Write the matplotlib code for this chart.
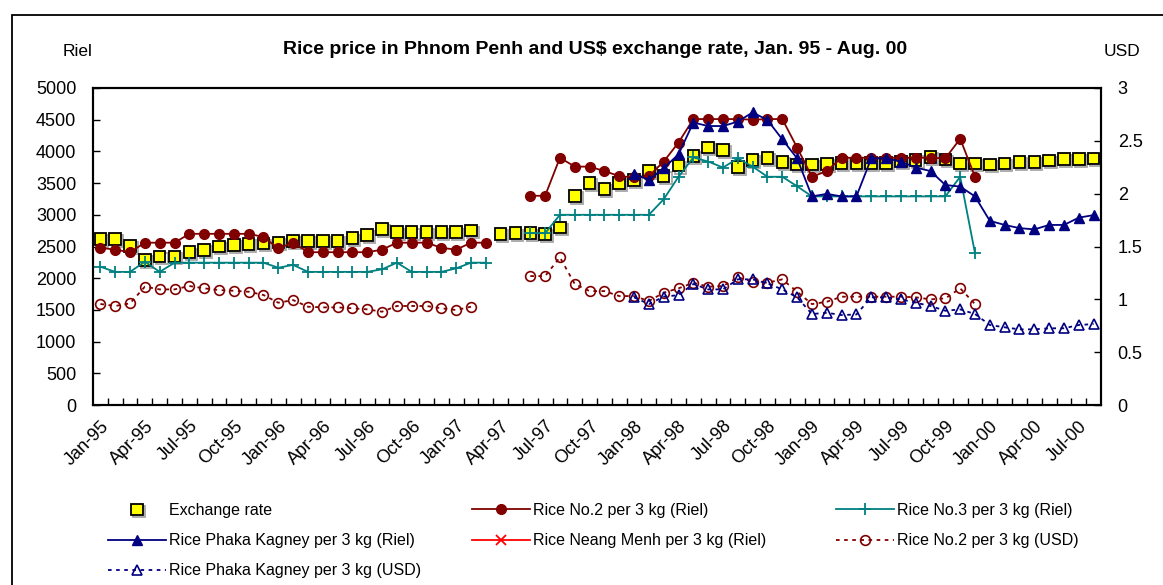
import numpy as np
import matplotlib
matplotlib.use("Agg")
import matplotlib.pyplot as plt
import matplotlib.patheffects as pe
from matplotlib.patches import Rectangle

plt.rcParams["font.family"] = ["Liberation Sans", "DejaVu Sans"]

nan = np.nan

# monthly categories Jan-95 .. Aug-00
mon = ["Jan", "Feb", "Mar", "Apr", "May", "Jun", "Jul", "Aug", "Sep", "Oct", "Nov", "Dec"]
months = [f"{m}-{y:02d}" for y in [95, 96, 97, 98, 99, 0] for m in mon][:68]

exchange_rate = [2620, 2620, 2510, 2290, 2340, 2340, 2410, 2445, 2500, 2525, 2540, 2550,
                 2565, 2590, 2590, 2590, 2590, 2630, 2680, 2775, 2725, 2725, 2725, 2725,
                 2725, 2750, nan, 2700, 2710, 2710, 2700, 2800, 3300, 3500, 3410, 3500,
                 3550, 3695, 3610, 3775, 3925, 4060, 4020, 3750, 3865, 3895, 3835, 3795,
                 3795, 3800, 3820, 3810, 3820, 3820, 3840, 3865, 3915, 3875, 3810, 3810,
                 3795, 3810, 3835, 3835, 3855, 3880, 3880, 3890]

rice2_riel = [2480, 2450, 2410, 2560, 2560, 2560, 2700, 2700, 2700, 2700, 2700, 2650,
              2470, 2560, 2410, 2410, 2410, 2410, 2410, 2450, 2560, 2560, 2560, 2480,
              2450, 2560, 2560, nan, nan, 3300, 3300, 3900, 3760, 3760, 3690, 3610,
              3590, 3610, 3840, 4140, 4510, 4510, 4510, 4510, 4500, 4510, 4510, 4060,
              3600, 3690, 3900, 3900, 3900, 3900, 3900, 3900, 3900, 3890, 4200, 3600,
              nan, nan, nan, nan, nan, nan, nan, nan]

rice3_riel = [2180, 2100, 2100, 2260, 2100, 2245, 2245, 2245, 2245, 2245, 2245, 2245,
              2165, 2210, 2100, 2100, 2100, 2100, 2100, 2140, 2245, 2100, 2100, 2100,
              2155, 2245, 2245, nan, nan, 2710, 2710, 3000, 3000, 3000, 3000, 3000,
              3000, 3000, 3245, 3600, 3905, 3840, 3745, 3890, 3760, 3600, 3600, 3450,
              3290, 3290, 3290, 3290, 3290, 3290, 3290, 3290, 3290, 3290, 3600, 2395,
              nan, nan, nan, nan, nan, nan, nan, nan]

phaka_riel = [nan] * 36 + [3645, 3550, 3735, 3955, 4455, 4400, 4400, 4470, 4615, 4495,
                           4190, 3890, 3290, 3330, 3290, 3290, 3890, 3890, 3840, 3745,
                           3690, 3470, 3445, 3290, 2905, 2840, 2790, 2770, 2840, 2840,
                           2955, 2995]

neang_menh_riel = [nan] * 68

rice2_usd = [0.956, 0.937, 0.962, 1.12, 1.094, 1.094, 1.126, 1.104, 1.088, 1.081, 1.072, 1.041,
             0.968, 0.993, 0.930, 0.924, 0.924, 0.915, 0.905, 0.883, 0.937, 0.937, 0.937, 0.915,
             0.899, 0.93, nan, nan, nan, 1.22, 1.22, 1.397, 1.145, 1.078, 1.078, 1.031,
             1.031, 0.984, 1.063, 1.104, 1.157, 1.12, 1.126, 1.208, 1.167, 1.157, 1.189, 1.072,
             0.955, 0.977, 1.025, 1.025, 1.025, 1.025, 1.025, 1.019, 1.0, 1.009, 1.104, 0.955,
             nan, nan, nan, nan, nan, nan, nan, nan]

phaka_usd = [nan] * 36 + [1.019, 0.955, 1.025, 1.04, 1.145, 1.094, 1.094, 1.189, 1.189, 1.151,
                          1.094, 1.019, 0.861, 0.873, 0.851, 0.857, 1.019, 1.019, 1.0, 0.968,
                          0.937, 0.892, 0.905, 0.861, 0.757, 0.735, 0.716, 0.716, 0.726, 0.726,
                          0.757, 0.766]

x = np.arange(len(months))

fig = plt.figure(figsize=(11.63, 5.85), dpi=100)
ax = fig.add_axes([93 / 1163, 1 - 405 / 585, (1101 - 93) / 1163, (405 - 88) / 585])
ax2 = ax.twinx()

maroon = "#800000"
teal = "#008080"
navy = "#000080"

h_ex, = ax.plot(x, exchange_rate, ls="none", marker="s", ms=8.3, mfc="#ffff00", mec="black",
                mew=1.3, label="Exchange rate",
                path_effects=[pe.SimpleLineShadow(offset=(1.5, -1.5), shadow_color="gray", alpha=0.7),
                              pe.Normal()])
h_r2, = ax.plot(x, rice2_riel, color=maroon, lw=1.3, marker="o", ms=7, mfc=maroon, mec=maroon,
                label="Rice No.2 per 3 kg (Riel)")
h_r3, = ax.plot(x, rice3_riel, color=teal, lw=1.3, marker="+", ms=9, mew=1.3,
                label="Rice No.3 per 3 kg (Riel)")
h_pk, = ax.plot(x, phaka_riel, color=navy, lw=1.3, marker="^", ms=7.5, mfc=navy, mec=navy,
                label="Rice Phaka Kagney per 3 kg (Riel)")
h_nm, = ax.plot(x, neang_menh_riel, color="#ff0000", lw=1.3, marker="x", ms=7, mew=1.3,
                label="Rice Neang Menh per 3 kg (Riel)")
h_r2u, = ax2.plot(x, rice2_usd, color=maroon, lw=1.3, ls=(0, (2, 2.5)), marker="o", ms=7,
                  mfc="none", mec=maroon, mew=1.2, label="Rice No.2 per 3 kg (USD)")
h_pku, = ax2.plot(x, phaka_usd, color=navy, lw=1.3, ls=(0, (2, 2.5)), marker="^", ms=7.5,
                  mfc="none", mec=navy, mew=1.2, label="Rice Phaka Kagney per 3 kg (USD)")

ax.set_xlim(-0.5, len(months) - 0.5)
ax.set_ylim(0, 5000)
ax2.set_ylim(0, 3)
ax.set_yticks(np.arange(0, 5001, 500))
ax2.set_yticks([0, 0.5, 1, 1.5, 2, 2.5, 3])
ax2.set_yticklabels(["0", "0.5", "1", "1.5", "2", "2.5", "3"])

ax.set_xticks(x[::3])
ax.set_xticklabels(months[::3], rotation=45, ha="right", rotation_mode="anchor")
ax.set_xticks(np.arange(0.5, len(months) - 0.5, 1), minor=True)
ax.tick_params(axis="x", which="major", length=0, pad=9, labelsize=13)
ax.tick_params(axis="x", which="minor", direction="in", length=5, width=1)
ax.tick_params(axis="y", direction="in", length=5, width=1, labelsize=13, pad=12)
ax2.tick_params(axis="y", direction="in", length=5, width=1, labelsize=13, pad=12)

for a in (ax, ax2):
    for s in a.spines.values():
        s.set_linewidth(1.5)

fig.text(595 / 1163, 1 - 50 / 585, "Rice price in Phnom Penh and US$ exchange rate, Jan. 95 - Aug. 00",
         ha="center", va="center", fontsize=14, fontweight="bold")
fig.text(78 / 1163, 1 - 52 / 585, "Riel", ha="center", va="center", fontsize=12.5)
fig.text(1122 / 1163, 1 - 52 / 585, "USD", ha="center", va="center", fontsize=12.5)

# outer chart frame (left and top edges visible)
fig.add_artist(Rectangle((12 / 1163, -0.1), 1.1, 1.1 - 15 / 585, transform=fig.transFigure,
                         fill=False, lw=1.3, ec="black"))

leg_kw = dict(frameon=False, fontsize=11.5, handlelength=3.6, handletextpad=0.2,
              labelspacing=0.95, borderpad=0, borderaxespad=0, loc="upper left")
fig.legend(handles=[h_ex, h_pk, h_pku], bbox_to_anchor=(108 / 1163, 1 - 503 / 585), **leg_kw)
fig.legend(handles=[h_r2, h_nm], bbox_to_anchor=(472 / 1163, 1 - 503 / 585), **leg_kw)
fig.legend(handles=[h_r3, h_r2u], bbox_to_anchor=(836 / 1163, 1 - 503 / 585), **leg_kw)

fig.savefig("out.png", dpi=100)
